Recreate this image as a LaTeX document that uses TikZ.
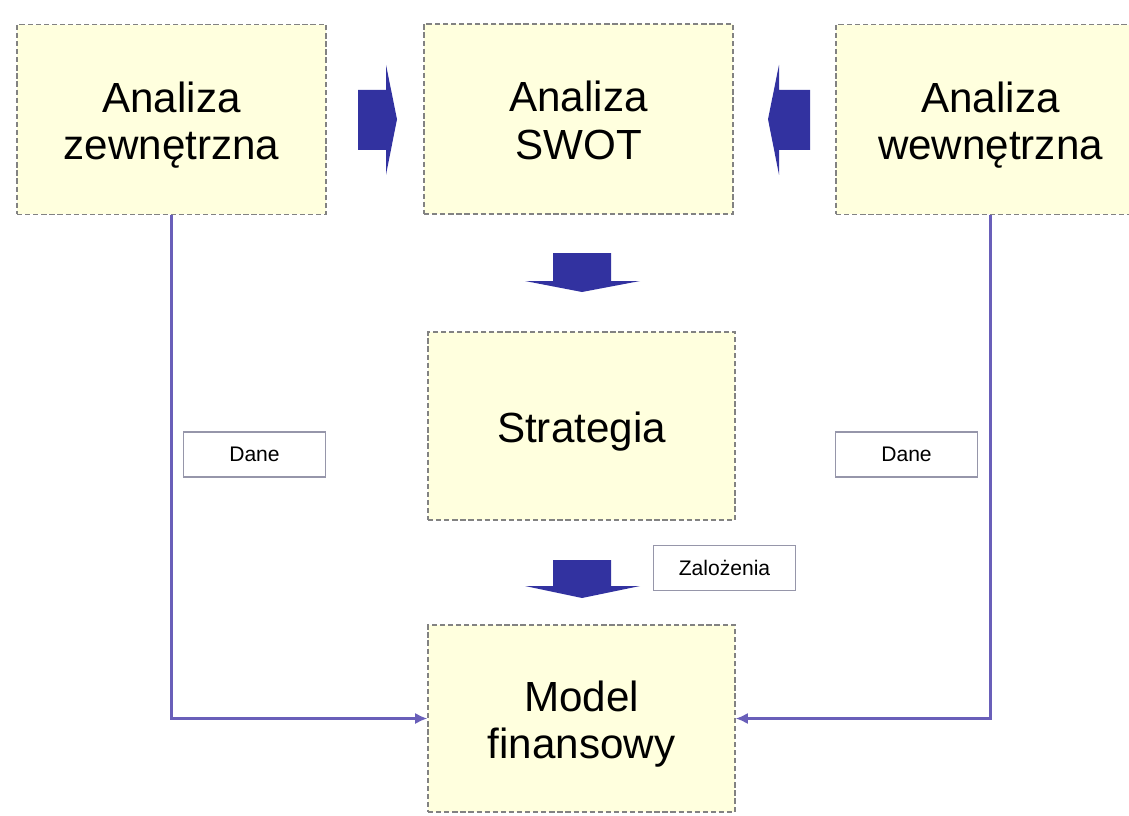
\documentclass[tikz,border=0pt]{standalone}
\usepackage{fontspec}
\setmainfont{Liberation Sans}
\usetikzlibrary{arrows.meta,calc}
\definecolor{boxfill}{RGB}{255,255,222}
\definecolor{boxline}{RGB}{130,130,130}
\definecolor{labline}{RGB}{150,150,170}
\definecolor{blockblue}{RGB}{50,50,160}
\definecolor{linkcol}{RGB}{105,95,185}
\newcommand{\tstrut}{\rule{0pt}{27pt}}
\begin{document}
\begin{tikzpicture}[x=0.02cm,y=-0.02cm,
  bigbox/.style={draw=boxline,fill=boxfill,line width=0.8pt,dash pattern=on 3pt off 1.6pt,
    minimum width=6.18cm,minimum height=3.8cm,inner sep=0pt,align=center,
    font=\fontsize{24}{27}\selectfont},
  labelbox/.style={draw=labline,fill=white,line width=0.6pt,minimum width=2.84cm,
    minimum height=0.9cm,inner sep=0pt,font=\fontsize{12}{14}\selectfont},
  blockarrow/.style={fill=blockblue,draw=none},
  link/.style={draw=linkcol,line width=1.7pt,-{Latex[length=7pt,width=6.5pt]}}]
\useasboundingbox (0,0) rectangle (1129,815);
\begin{scope}
\clip (0,0) rectangle (1129,815);
\node[bigbox] (ext) at (171.5,119.5) {\tstrut Analiza\\zewnętrzna\strut};
\node[bigbox] (swot) at (578.5,119) {\tstrut Analiza\\SWOT\strut};
\node[bigbox] (int) at (990.5,119.5) {\tstrut Analiza\\wewnętrzna\strut};
\node[bigbox,minimum width=6.14cm,minimum height=3.76cm] (strat) at (581.5,426) {\tstrut Strategia\strut};
\node[bigbox,minimum width=6.14cm,minimum height=3.74cm] (model) at (581.5,718.5) {\tstrut Model\\finansowy\strut};
\end{scope}
% block arrows
\coordinate (a1) at ($(ext.east)!0.5!(swot.west)$);
\fill[blockarrow] ($(a1)+(-17,-29.5)$) -- ++(28,0) -- ++(0,-25) -- ($(a1)+(22,0)$)
  -- ($(a1)+(11,55.5)$) -- ++(0,-25) -- ++(-28,0) -- cycle;
\coordinate (a2) at ($(swot.east)!0.5!(int.west)$);
\fill[blockarrow] ($(a2)+(25.5,-29.5)$) -- ++(-31,0) -- ++(0,-25) -- ($(a2)+(-16.5,0)$)
  -- ($(a2)+(-5.5,55.5)$) -- ++(0,-25) -- ++(31,0) -- cycle;
\coordinate (a3) at (582,253);
\fill[blockarrow] ($(a3)+(-29,0)$) -- ++(0,28) -- ++(-28,0) -- ($(a3)+(0,39)$)
  -- ($(a3)+(58,28)$) -- ++(-29,0) -- ++(0,-28) -- cycle;
\coordinate (a4) at (582,560);
\fill[blockarrow] ($(a4)+(-29,0)$) -- ++(0,26) -- ++(-28,0) -- ($(a4)+(0,38)$)
  -- ($(a4)+(58,26)$) -- ++(-29,0) -- ++(0,-26) -- cycle;
% connectors
\draw[link] (ext.south) |- (model.west);
\draw[link] (int.south) |- (model.east);
% labels
\node[labelbox] (dl) at (254.5,454.5) {Dane};
\node[labelbox] (dr) at (906.5,454.5) {Dane};
\node[labelbox] (zal) at (724.5,568) {Zalożenia};
\end{tikzpicture}
\end{document}
